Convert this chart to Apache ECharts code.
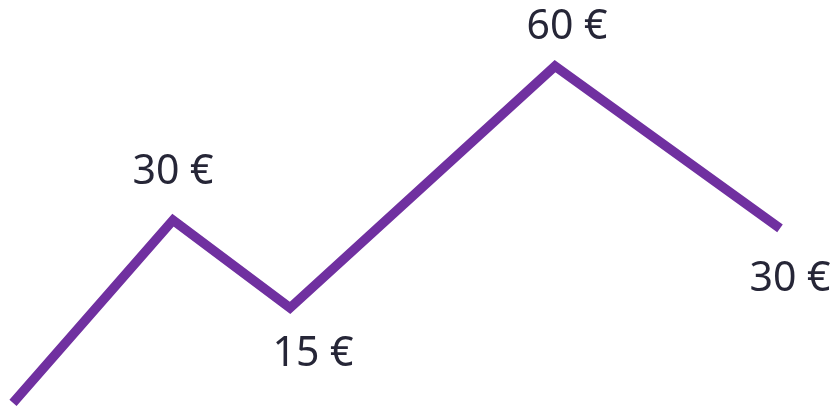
<!DOCTYPE html>
<html>
<head>
<meta charset="utf-8">
<script src="https://cdn.jsdelivr.net/npm/echarts@6/dist/echarts.min.js"></script>
<style>
  html, body { margin: 0; padding: 0; background: #fff; }
  #chart { width: 838px; height: 410px; }
</style>
</head>
<body>
<div id="chart"></div>
<script>
// data
const xs = [0, 160, 277, 542, 767]
const values = [-5.6, 30, 12.9, 60, 28.4]
const labels = ['', '30 €', '15 €', '60 €', '30 €']

// label placement per point (above / below) and nudges
const placement = ['top', 'top', 'bottom', 'top', 'bottom']
const nudge = [[0, 0], [0, -9], [23, 8], [12, 0], [10, 12]]

const chart = echarts.init(document.getElementById('chart'))

const seriesData = xs.map((x, i) => ({
  value: [x, values[i]],
  label: {
    show: labels[i] !== '',
    position: placement[i],
    offset: nudge[i],
    formatter: () => labels[i],
  },
}))

chart.setOption({
  animation: false,
  grid: { left: 13, right: 58, top: 0, bottom: 0 },
  xAxis: {
    type: 'value',
    min: 0,
    max: 767,
    show: false,
  },
  yAxis: {
    type: 'value',
    min: -7,
    max: 72.9,
    show: false,
  },
  series: [
    {
      type: 'line',
      data: seriesData,
      symbol: 'circle',
      symbolSize: 0,
      showSymbol: true,
      clip: false,
      itemStyle: { color: 'rgba(0,0,0,0)' },
      lineStyle: { color: '#7030a0', width: 9.5, join: 'miter', cap: 'butt' },
      label: {
        distance: 18,
        color: '#262637',
        fontFamily: 'Noto Sans',
        fontSize: 41,
      },
    },
  ],
})
</script>
</body>
</html>
